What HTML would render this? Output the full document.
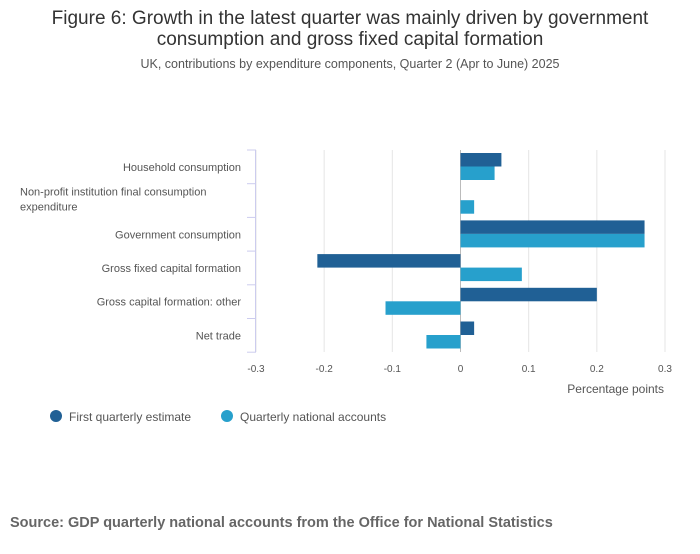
<!DOCTYPE html>
<html><head><meta charset="utf-8">
<style>
body{margin:0;background:#fff;font-family:"Liberation Sans",sans-serif;}
svg text{font-family:"Liberation Sans",sans-serif;}
</style></head>
<body>
<svg width="700" height="549" xmlns="http://www.w3.org/2000/svg">
<text x="350" y="24" text-anchor="middle" font-size="19" fill="#333">Figure 6: Growth in the latest quarter was mainly driven by government</text>
<text x="350" y="45" text-anchor="middle" font-size="19" fill="#333">consumption and gross fixed capital formation</text>
<text x="350" y="68" text-anchor="middle" font-size="12.5" fill="#555">UK, contributions by expenditure components, Quarter 2 (Apr to June) 2025</text>
<g id="grid"></g>
<g id="bars"></g>
<g id="labels"></g>
<text x="664" y="393" text-anchor="end" font-size="12" fill="#555">Percentage points</text>
<g>
<circle cx="56" cy="416" r="6" fill="#206095"/>
<text x="69" y="421" font-size="12" fill="#555">First quarterly estimate</text>
<circle cx="227" cy="416" r="6" fill="#27a0cc"/>
<text x="240" y="421" font-size="12" fill="#555">Quarterly national accounts</text>
</g>
<text x="10" y="527" font-size="14.5" font-weight="bold" fill="#666">Source: GDP quarterly national accounts from the Office for National Statistics</text>
</svg>
<script>
const categories=[["Household consumption"],["Non-profit institution final consumption","expenditure"],["Government consumption"],["Gross fixed capital formation"],["Gross capital formation: other"],["Net trade"]];
const firstEstimate=[0.06,0,0.27,-0.21,0.2,0.02];
const qna=[0.05,0.02,0.27,0.09,-0.11,-0.05];
const ticks=[-0.3,-0.2,-0.1,0,0.1,0.2,0.3];
const NS="http://www.w3.org/2000/svg";
const x=v=>460.5+(v)*(409/0.6);
const top0=150,rowH=33.7;
const y=i=>top0+i*rowH;
function mk(t,a,p){const e=document.createElementNS(NS,t);for(const k in a)e.setAttribute(k,a[k]);p.appendChild(e);return e;}
const grid=document.getElementById('grid'),bars=document.getElementById('bars'),labels=document.getElementById('labels');
ticks.forEach(t=>{
 const l=mk('line',{x1:x(t),x2:x(t),y1:150,y2:352,stroke:t===0?'#bbb':'#e5e5e5','stroke-width':1},grid);
 
 
 const tx=mk('text',{x:x(t),y:372,'text-anchor':'middle','font-size':10,fill:'#555'},grid);
 tx.textContent=t===0?'0':String(t);
 
 
});
const ax=mk('line',{x1:255.5,x2:255.5,y1:150,y2:352,stroke:'#ccccee','stroke-width':1},grid);


for(let i=0;i<=categories.length;i++){
 const tk=mk('line',{x1:247,x2:256,y1:y(i),y2:y(i),stroke:'#ccccee'},grid);
 
 
}
categories.forEach((c,i)=>{
 const b1=mk('rect',{x:Math.min(x(0),x(firstEstimate[i])),y:y(i)+3,width:Math.abs(x(firstEstimate[i])-x(0)),height:13.5,fill:'#206095'},bars);
 
 
 const b2=mk('rect',{x:Math.min(x(0),x(qna[i])),y:y(i)+16.5,width:Math.abs(x(qna[i])-x(0)),height:13.5,fill:'#27a0cc'},bars);
 
 
 if(c.length===1){
  const t=mk('text',{x:241,y:y(i)+rowH/2+4,'text-anchor':'end','font-size':11,fill:'#555'},labels);
  t.textContent=c[0];
  
  
 }else{
  c.forEach((s,j)=>{
   const t=mk('text',{x:20,y:y(i)+12+j*15,'font-size':11,fill:'#555'},labels);
   t.textContent=s;
   
   
  });
 }
});
</script>
</body></html>
